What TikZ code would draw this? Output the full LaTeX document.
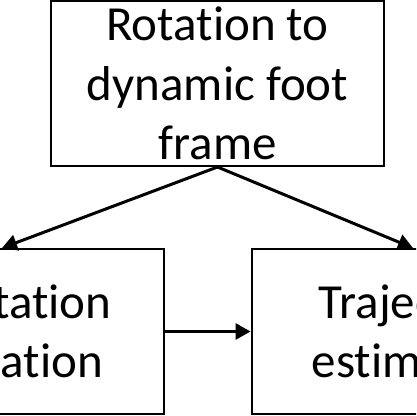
\documentclass[tikz,border=0pt]{standalone}
\usepackage{fontspec}
\setmainfont{Carlito}[Ligatures={CommonOff}]
\usetikzlibrary{arrows.meta}
\begin{document}
\begin{tikzpicture}[x=1pt,y=-1pt,
  box/.style={draw, line width=2pt, minimum width=333pt, minimum height=165pt,
    inner sep=0pt, align=center, font=\fontsize{49}{59.5}\selectfont},
  arr/.style={line width=3pt, -{Triangle[length=15pt,width=16pt]}}]
\useasboundingbox (0,0) rectangle (416,416);
\fill[white] (0,0) rectangle (416,416);
\clip (0,0) rectangle (416,416);
\node[box] (top) at (217.5,83.5) {Rotation to\\dynamic foot\\frame};
\node[box] (left) at (-3,331.5) {Orientation\\estimation};
\node[box] (right) at (418,331.5) {Trajectory\\estimation};
\coordinate (lt) at ([xshift=5pt]left.north);
\coordinate (rt) at ([xshift=-5pt]right.north);
\draw[arr] (top.south) -- (lt);
\draw[arr] (top.south) -- (rt);
\draw[arr] (left.east) -- (right.west);
\end{tikzpicture}
\end{document}
